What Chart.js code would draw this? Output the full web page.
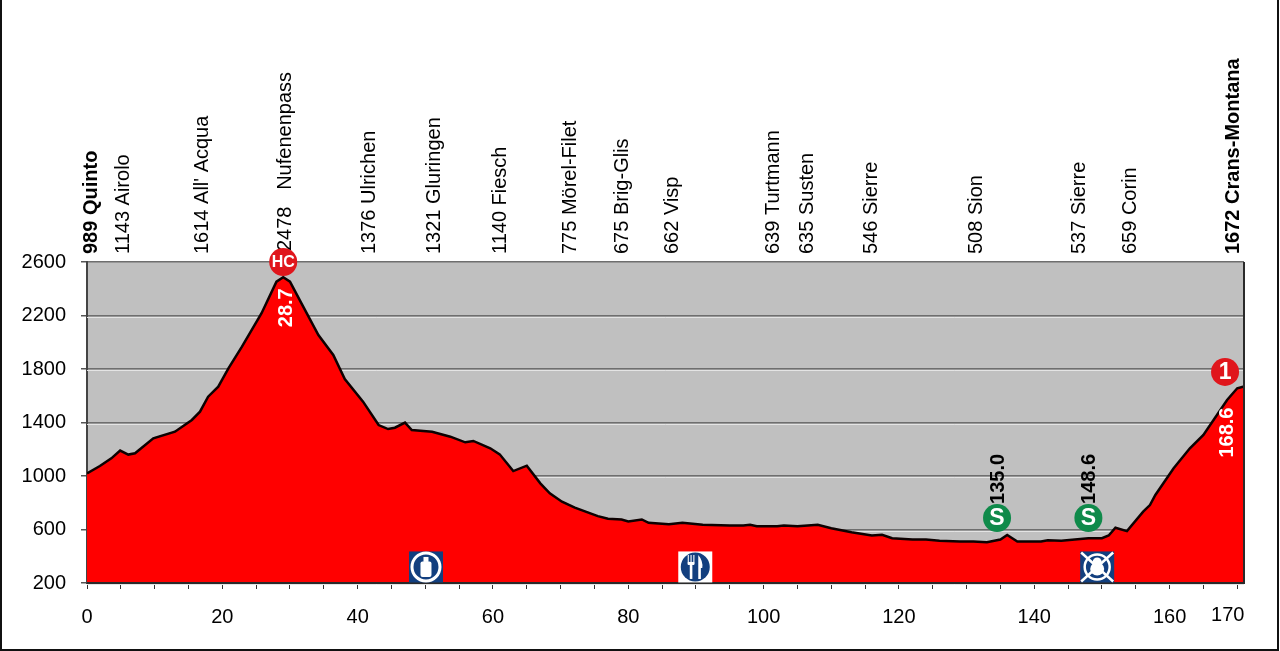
<!DOCTYPE html>
<html>
<head>
<meta charset="utf-8">
<title>Profil</title>
<script src="https://cdn.jsdelivr.net/npm/chart.js@4/dist/chart.umd.min.js"></script>
<style>
    html, body { margin: 0; padding: 0; background: #fff; overflow: hidden; }
    #frame { position: relative; width: 1280px; height: 651px; }
    #frame:after { content: ''; position: absolute; inset: 0 1px 0 0; border: solid #111; border-width: 0 2px 2px 2px; pointer-events: none; }
    canvas { display: block; }
</style>
</head>
<body>
<div id="frame"><canvas id="profile" width="1280" height="651"></canvas></div>
<script>
// profile
const kmValues = [0, 1.9, 3.6, 4.9, 6.1, 7.1, 9.8, 13, 15.5, 16.7, 17.9, 19.4, 20.9, 22.9, 25.8, 28, 29, 30, 31.7, 34.2, 36.4, 38.1, 40.8, 43.1, 44.5, 45.5, 47, 48, 51, 53.7, 55.9, 57.1, 59.6, 61, 63, 65, 67, 68.4, 70.2, 72.1, 74.4, 75.5, 77, 79, 80, 82, 83, 86, 88, 91, 95, 97, 98, 99, 102, 103, 105, 108, 110, 113, 116, 117.5, 119, 122, 124, 126, 129, 131, 133, 135, 136, 137.5, 141, 142, 144, 148, 150, 151, 152, 153.7, 156.1, 157.1, 157.9, 160.6, 163, 165, 168.5, 170, 171];
const altValues = [1020, 1075, 1132, 1190, 1160, 1170, 1282, 1331, 1419, 1481, 1593, 1668, 1805, 1967, 2217, 2453, 2486, 2453, 2291, 2054, 1905, 1725, 1556, 1381, 1351, 1361, 1399, 1344, 1331, 1294, 1252, 1262, 1207, 1162, 1037, 1077, 945, 870, 808, 763, 721, 700, 680, 675, 660, 675, 650, 640, 650, 635, 630, 630, 635, 625, 625, 630, 625, 635, 610, 580, 555, 560, 535, 525, 525, 515, 510, 510, 505, 525, 559, 510, 510, 520, 515, 535, 535, 555, 613, 588, 733, 783, 858, 1058, 1207, 1307, 1568, 1656, 1670];

// places along the top
const placeNames = ['989 Quinto', '1143 Airolo', "1614 All' Acqua", '2478   Nufenenpass', '1376 Ulrichen', '1321 Gluringen', '1140 Fiesch', '775 Mörel-Filet', '675 Brig-Glis', '662 Visp', '639 Turtmann', '635 Susten', '546 Sierre', '508 Sion', '537 Sierre', '659 Corin', '1672 Crans-Montana'];
const placeKm = [0.7, 5.4, 17.1, 29.4, 41.8, 51.4, 61.1, 71.5, 79.1, 86.6, 101.5, 106.5, 115.9, 131.5, 146.7, 154.2, 169.5];
const boldPlaces = ['989 Quinto', '1672 Crans-Montana'];

// climbs and sprints
const markerKm = [29, 168.2, 134.5, 148];
const markerAlt = [2600, 1778, 686, 686];
const markerText = ['HC', '1', 'S', 'S'];
const markerColors = ['#e0161c', '#e0161c', '#0f8a4a', '#0f8a4a'];

// distances written vertically
const distText = ['28.7', '168.6', '135.0', '148.6'];
const distKm = [29.5, 168.6, 134.7, 148.2];
const distAlt = [2258, 1325, 978, 978];
const distColors = ['#fff', '#fff', '#000', '#000'];

// service icons
const iconKm = [50.1, 89.9, 149.3];
const iconAlt = [320, 320, 320];
const iconKinds = ['bottle', 'food', 'nofeed'];

const yTicks = [200, 600, 1000, 1400, 1800, 2200, 2600];
const xTickStep = 5;
const xLabelled = [0, 20, 40, 60, 80, 100, 120, 140, 160];
const lastLabelKm = 168.6;
const lastLabel = '170';

const FONT = '"Liberation Sans", Arial, sans-serif';
const NAVY = '#123f7f';

function drawIcon(ctx, kind, x, y) {
    const w = 34, h = 31;
    ctx.save();
    ctx.translate(x, y);
    ctx.fillStyle = kind === 'food' ? '#fff' : NAVY;
    ctx.fillRect(-w / 2, -h / 2, w, h);
    ctx.fillStyle = NAVY;
    ctx.beginPath();
    ctx.arc(0, 0, 14.5, 0, Math.PI * 2);
    ctx.fill();
    ctx.strokeStyle = '#fff';
    ctx.fillStyle = '#fff';

    if (kind === 'bottle') {
        ctx.lineWidth = 3;
        ctx.beginPath();
        ctx.arc(0, 0, 14, 0, Math.PI * 2);
        ctx.stroke();
        ctx.fillRect(-2.5, -10, 5, 5);
        ctx.beginPath();
        ctx.roundRect(-5.5, -5.5, 11, 15.5, 2);
        ctx.fill();
    } else if (kind === 'food') {
        // fork
        ctx.fillRect(-5.5, -3, 2.6, 15);
        ctx.lineWidth = 1.1;
        [-7, -4.2, -1.4].forEach(function(dx) {
            ctx.beginPath();
            ctx.moveTo(dx, -12);
            ctx.lineTo(dx, -3);
            ctx.stroke();
        });
        ctx.fillRect(-7.5, -5, 6.5, 3);
        // knife
        ctx.beginPath();
        ctx.moveTo(3, 12);
        ctx.lineTo(3, -12);
        ctx.quadraticCurveTo(8, -6, 7, 1);
        ctx.lineTo(5.6, 1);
        ctx.lineTo(5.6, 12);
        ctx.closePath();
        ctx.fill();
    } else {
        ctx.lineWidth = 2.5;
        ctx.beginPath();
        ctx.arc(0, 0, 12.5, 0, Math.PI * 2);
        ctx.stroke();
        ctx.beginPath();
        ctx.arc(0, -5, 4.5, 0, Math.PI * 2);
        ctx.fill();
        ctx.beginPath();
        ctx.ellipse(0, 2, 7, 6.5, 0, 0, Math.PI * 2);
        ctx.fill();
        ctx.lineWidth = 2.5;
        ctx.beginPath();
        ctx.moveTo(-w / 2 + 1, -h / 2 + 1);
        ctx.lineTo(w / 2 - 1, h / 2 - 1);
        ctx.moveTo(w / 2 - 1, -h / 2 + 1);
        ctx.lineTo(-w / 2 + 1, h / 2 - 1);
        ctx.stroke();
    }
    ctx.restore();
}

function verticalText(ctx, text, x, y, align, font, color) {
    ctx.save();
    ctx.translate(x, y);
    ctx.rotate(-Math.PI / 2);
    ctx.font = font;
    ctx.fillStyle = color;
    ctx.textAlign = align;
    ctx.textBaseline = 'middle';
    ctx.fillText(text, 0, 0);
    ctx.restore();
}

const profileDecor = {
    id: 'profileDecor',
    beforeDraw: function(chart) {
        const a = chart.chartArea;
        chart.ctx.fillStyle = '#c0c0c0';
        chart.ctx.fillRect(a.left, a.top, a.right - a.left, a.bottom - a.top);
    },
    beforeDatasetsDraw: function(chart) {
        // pale edge under each grid line
        const a = chart.chartArea;
        const ctx = chart.ctx;
        ctx.strokeStyle = '#e4e4e4';
        ctx.lineWidth = 1;
        yTicks.slice(0, -1).forEach(function(v) {
            const y = Math.round(chart.scales.y.getPixelForValue(v)) + 1.5;
            ctx.beginPath();
            ctx.moveTo(a.left, y);
            ctx.lineTo(a.right, y);
            ctx.stroke();
        });
    },
    afterDatasetsDraw: function(chart) {
        const ctx = chart.ctx;
        const a = chart.chartArea;
        const xs = chart.scales.x;
        const ys = chart.scales.y;

        // plot outline on top of the fill
        ctx.strokeStyle = '#2a2a2a';
        ctx.lineWidth = 2;
        ctx.beginPath();
        ctx.moveTo(a.left, a.bottom);
        ctx.lineTo(a.right, a.bottom);
        ctx.lineTo(a.right, a.top);
        ctx.stroke();

        placeNames.forEach(function(name, i) {
            const weight = boldPlaces.includes(name) ? 'bold ' : '';
            // the HC badge pushes this one up a little
            const lift = name.includes('Nufenenpass') ? 3 : 0;
            verticalText(ctx, name, xs.getPixelForValue(placeKm[i]), a.top - 8 - lift, 'left', weight + '20px ' + FONT, '#000');
        });

        iconKinds.forEach(function(kind, i) {
            drawIcon(ctx, kind, xs.getPixelForValue(iconKm[i]), ys.getPixelForValue(iconAlt[i]));
        });

        markerText.forEach(function(text, i) {
            const x = xs.getPixelForValue(markerKm[i]);
            const y = ys.getPixelForValue(markerAlt[i]);
            ctx.fillStyle = markerColors[i];
            ctx.beginPath();
            ctx.arc(x, y, 14, 0, Math.PI * 2);
            ctx.fill();
            ctx.fillStyle = '#fff';
            ctx.font = 'bold ' + (text === 'HC' ? 16 : 23) + 'px ' + FONT;
            ctx.textAlign = 'center';
            ctx.textBaseline = 'middle';
            ctx.fillText(text, x, y + 1);
        });

        distText.forEach(function(text, i) {
            verticalText(ctx, text, xs.getPixelForValue(distKm[i]), ys.getPixelForValue(distAlt[i]), 'center', 'bold 20px ' + FONT, distColors[i]);
        });

        // last x label sits left of its tick
        ctx.fillStyle = '#000';
        ctx.font = '20px ' + FONT;
        ctx.textAlign = 'center';
        ctx.textBaseline = 'middle';
        ctx.fillText(lastLabel, xs.getPixelForValue(lastLabelKm), 615);
    }
};

const profileChart = new Chart(document.getElementById('profile').getContext('2d'), {
    type: 'scatter',
    data: {
        datasets: [{
            data: kmValues.map(function(km, i) { return { x: km, y: altValues[i] }; }),
            showLine: true,
            fill: 'start',
            tension: 0,
            pointRadius: 0,
            borderColor: '#0d0000',
            borderWidth: 2.5,
            backgroundColor: '#ff0000'
        }]
    },
    options: {
        responsive: false,
        animation: false,
        devicePixelRatio: 1,
        layout: { padding: { left: 0, top: 262, right: 36, bottom: 0 } },
        plugins: { legend: { display: false }, tooltip: { enabled: false } },
        scales: {
            x: {
                type: 'linear',
                min: 0,
                max: 171,
                afterFit: function(scale) { scale.height = 68; },
                afterBuildTicks: function(scale) {
                    const ticks = [];
                    for (let v = 0; v <= 170; v += xTickStep) ticks.push({ value: v });
                    scale.ticks = ticks;
                },
                grid: { drawOnChartArea: false, tickLength: 6, tickColor: '#333', tickWidth: 1 },
                border: { color: '#2a2a2a', width: 2 },
                ticks: {
                    autoSkip: false,
                    maxRotation: 0,
                    padding: 16,
                    color: '#000',
                    font: { family: FONT, size: 20 },
                    callback: function(v) { return xLabelled.includes(v) ? String(v) : ''; }
                }
            },
            y: {
                type: 'linear',
                min: 200,
                max: 2600,
                afterFit: function(scale) { scale.width = 87; },
                afterBuildTicks: function(scale) {
                    scale.ticks = yTicks.map(function(v) { return { value: v }; });
                },
                grid: { color: '#6e6e6e', lineWidth: 1.5, tickLength: 6, tickColor: '#555' },
                border: { color: '#444', width: 2 },
                ticks: {
                    padding: 15,
                    color: '#000',
                    font: { family: FONT, size: 20 },
                    callback: function(v) { return String(v); }
                }
            }
        }
    },
    plugins: [profileDecor]
});
</script>
</body>
</html>
